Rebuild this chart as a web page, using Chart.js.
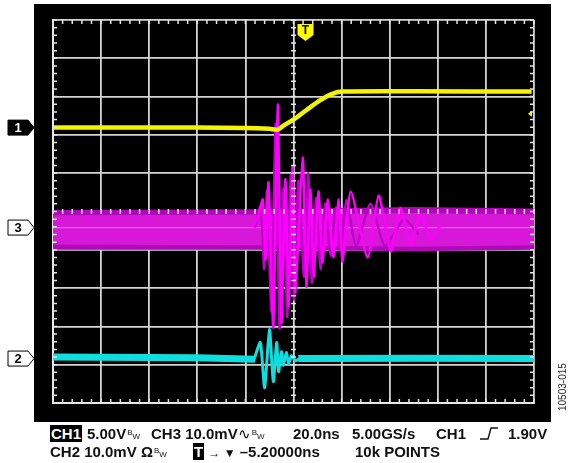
<!DOCTYPE html>
<html lang="en">
<head>
    <meta charset="UTF-8">
    <title>Scope capture 10503-015</title>
    <style>
        body {
            margin: 0;
            background: #fff;
            font-family: "Liberation Sans", Arial, sans-serif;
        }
        .wrap {
            position: relative;
            width: 569px;
            height: 463px;
            overflow: hidden;
        }
        canvas {
            position: absolute;
            left: 0;
            top: 0;
        }
        .info {
            position: absolute;
            font-weight: bold;
            font-size: 15px;
            line-height: 15px;
            color: #111;
            white-space: nowrap;
        }
        .inv {
            background: #000;
            color: #fff;
            padding: 0 1px;
        }
        .bw {
            font-size: 8px;
            font-weight: normal;
            position: relative;
            margin-left: 1px;
        }
        .bw .b { position: relative; top: -4px; }
        .fig {
            position: absolute;
            left: 558px;
            top: 411px;
            font-size: 10px;
            line-height: 10px;
            color: #222;
            transform-origin: 0 0;
            transform: rotate(-90deg);
            white-space: nowrap;
        }
    </style>
</head>
<body>
<div class="wrap">
    <canvas id="scope" width="569" height="463"></canvas>

    <div class="info" style="left:50px; top:426px;"><span class="inv">CH1</span></div>
    <div class="info" style="left:87px; top:426px;">5.00V<span class="bw"><span class="b">B</span>W</span></div>
    <div class="info" style="left:151px; top:426px;">CH3 10.0mV<span style="font-weight:normal">&#x223F;</span><span class="bw"><span class="b">B</span>W</span></div>
    <div class="info" style="left:293px; top:426px;">20.0ns</div>
    <div class="info" style="left:352px; top:426px;">5.00GS/s</div>
    <div class="info" style="left:436px; top:426px;">CH1</div>
    <div class="info" style="left:480px; top:426px;"><svg width="18" height="13" style="vertical-align:-1px"><polyline points="0,12 8,12 11,1 18,1" fill="none" stroke="#111" stroke-width="1.4"/></svg></div>
    <div class="info" style="left:508px; top:426px;">1.90V</div>

    <div class="info" style="left:50px; top:444px;">CH2 10.0mV &#x3A9;<span class="bw"><span class="b">B</span>W</span></div>
    <div class="info" style="left:193px; top:444px;"><span class="inv">T</span> <span style="font-size:12px">&#x2192; &#x25BC;</span> &#x2013;5.20000ns</div>
    <div class="info" style="left:355px; top:444px;">10k POINTS</div>

    <div class="fig">10503-015</div>
</div>

<script src="https://cdn.jsdelivr.net/npm/chart.js"></script>
<script>
// graticule: 10 x 10 divisions, centre = 0
const xDivs = [-5, 5];
const yDivs = [-5, 5];

// channel ground markers (divisions)
const ch1Level = 2.19;
const ch2Level = -3.84;
const ch3Level = -0.42;
const trigPos = 0.25;      // "T" marker on top
const trigLevel = 2.55;    // small marker on right edge

// CH1 (yellow) - step
const ch1Trace = [[-5, 2.19], [-2, 2.19], [-1, 2.18], [-0.5, 2.16], [-0.33, 2.14], [-0.2, 2.25],
    [0, 2.40], [0.25, 2.63], [0.55, 2.90], [0.78, 3.06], [1.0, 3.13], [2.5, 3.14], [4.95, 3.13]];

// CH3 (magenta) noise band envelopes
const ch3OuterTop = [[-5, 0.04], [-0.7, 0.06], [2.5, 0.12], [5, 0.08]];
const ch3OuterBot = [[-5, -1.0], [-0.7, -1.0], [2.5, -1.04], [5, -1.0]];
const ch3InnerTop = [[-5, -0.1], [-0.7, -0.08], [2.5, -0.04], [5, -0.08]];
const ch3InnerBot = [[-5, -0.86], [-0.7, -0.88], [2.5, -0.92], [5, -0.88]];
const ch3Mid = [[-5, -0.42], [5, -0.42]];

// CH3 ringing, two overlapping sweeps
const ch3Ring = [[-0.85, -0.42], [-0.73, -0.1], [-0.64, 0.31], [-0.58, -1.25], [-0.52, 0.76],
    [-0.42, -3.03], [-0.33, 2.79], [-0.25, -2.90], [-0.17, 0.84], [-0.10, -2.48], [-0.02, 1.17],
    [0.04, -2.11], [0.19, 1.41], [0.27, -1.96], [0.35, 0.57], [0.42, -1.70], [0.52, 0.52],
    [0.60, -1.33], [0.71, 0.31], [0.83, -1.20], [0.94, 0.31], [1.02, -1.31], [1.19, 0.52],
    [1.54, -1.20], [1.77, 0.42], [2.02, -1.04], [2.22, 0.10], [2.43, -0.86], [2.64, -0.08],
    [2.85, -0.73], [3.06, -0.34]];
const ch3Ring2 = [[-0.80, -0.42], [-0.68, 0.15], [-0.61, -1.5], [-0.55, 0.55], [-0.46, -2.6],
    [-0.37, 2.3], [-0.29, -3.05], [-0.21, 0.6], [-0.13, -2.75], [-0.06, 0.95], [0.01, -2.3],
    [0.10, 0.8], [0.22, -1.7], [0.31, 1.0], [0.38, -1.85], [0.47, 0.35], [0.56, -1.5],
    [0.66, 0.2], [0.77, -1.15], [0.88, 0.1], [0.98, -1.0], [1.1, 0.3], [1.3, -0.9],
    [1.6, 0.2], [1.9, -0.9], [2.3, -0.2], [2.6, -0.6]];

// CH2 (cyan)
const ch2BaseLeft = [[-5, -3.80], [-2, -3.82], [-0.8, -3.86]];
const ch2BaseRight = [[0.1, -3.84], [2.5, -3.83], [5, -3.84]];
const ch2Ring = [[-0.82, -3.86], [-0.69, -3.42], [-0.60, -4.60], [-0.50, -3.08], [-0.42, -4.44],
    [-0.35, -3.42], [-0.31, -4.18], [-0.25, -3.66], [-0.21, -4.02], [-0.15, -3.68], [-0.10, -3.97],
    [-0.04, -3.76], [0.04, -3.90], [0.12, -3.84]];

function pts(arr) {
    return arr.map(function (p) { return { x: p[0], y: p[1] }; });
}

function trace(data, color, width, order, extra) {
    return Object.assign({
        data: pts(data),
        showLine: true,
        pointRadius: 0,
        borderColor: color,
        borderWidth: width,
        fill: false,
        order: order
    }, extra || {});
}

// black bezel, minor ticks, channel markers, trigger markers
const scopeDecor = {
    id: 'scopeDecor',
    beforeDraw(chart) {
        const a = chart.chartArea;
        const ctx = chart.ctx;
        ctx.save();
        ctx.fillStyle = '#000';
        ctx.fillRect(a.left - 19, a.top - 16, a.right - a.left + 36, a.bottom - a.top + 35);
        ctx.restore();
    },
    afterDraw(chart) {
        const a = chart.chartArea;
        const ctx = chart.ctx;
        const xs = chart.scales.x;
        const ys = chart.scales.y;
        ctx.save();
        ctx.strokeStyle = '#e4e4e4';
        ctx.lineWidth = 1.5;
        ctx.beginPath();
        for (let v = xDivs[0]; v <= xDivs[1] + 0.001; v += 0.2) {
            const px = xs.getPixelForValue(v);
            ctx.moveTo(px, a.top); ctx.lineTo(px, a.top + 4);
            ctx.moveTo(px, a.bottom); ctx.lineTo(px, a.bottom - 4);
            const cy = ys.getPixelForValue(0);
            ctx.moveTo(px, cy - 2.5); ctx.lineTo(px, cy + 2.5);
        }
        for (let v = yDivs[0]; v <= yDivs[1] + 0.001; v += 0.2) {
            const py = ys.getPixelForValue(v);
            ctx.moveTo(a.left, py); ctx.lineTo(a.left + 4, py);
            ctx.moveTo(a.right, py); ctx.lineTo(a.right - 4, py);
            const cx = xs.getPixelForValue(0);
            ctx.moveTo(cx - 2.5, py); ctx.lineTo(cx + 2.5, py);
        }
        ctx.stroke();

        // channel markers on the left
        const marks = [
            { t: '1', v: ch1Level, fill: '#000', text: '#fff' },
            { t: '3', v: ch3Level, fill: '#fff', text: '#000' },
            { t: '2', v: ch2Level, fill: '#fff', text: '#000' }
        ];
        marks.forEach(function (m) {
            const py = ys.getPixelForValue(m.v);
            const l = a.left - 45, r = a.left - 25, tip = a.left - 19;
            ctx.beginPath();
            ctx.moveTo(l, py - 7.5);
            ctx.lineTo(r, py - 7.5);
            ctx.lineTo(tip, py);
            ctx.lineTo(r, py + 7.5);
            ctx.lineTo(l, py + 7.5);
            ctx.closePath();
            ctx.fillStyle = m.fill;
            ctx.fill();
            ctx.strokeStyle = '#000';
            ctx.lineWidth = 1;
            ctx.stroke();
            ctx.fillStyle = m.text;
            ctx.font = 'bold 13px "Liberation Sans", Arial, sans-serif';
            ctx.textAlign = 'center';
            ctx.textBaseline = 'middle';
            ctx.fillText(m.t, (l + r) / 2, py + 1);
        });

        // trigger position marker
        const tx = xs.getPixelForValue(trigPos);
        ctx.beginPath();
        ctx.moveTo(tx - 8, a.top + 4);
        ctx.lineTo(tx + 8, a.top + 4);
        ctx.lineTo(tx + 8, a.top + 15);
        ctx.lineTo(tx, a.top + 21);
        ctx.lineTo(tx - 8, a.top + 15);
        ctx.closePath();
        ctx.fillStyle = '#ffff00';
        ctx.fill();
        ctx.fillStyle = '#000';
        ctx.font = 'bold 12px "Liberation Sans", Arial, sans-serif';
        ctx.textAlign = 'center';
        ctx.textBaseline = 'middle';
        ctx.fillText('T', tx, a.top + 11);

        // trigger level marker
        const ty = ys.getPixelForValue(trigLevel);
        ctx.beginPath();
        ctx.moveTo(a.right - 2, ty - 3);
        ctx.lineTo(a.right - 6, ty);
        ctx.lineTo(a.right - 2, ty + 3);
        ctx.closePath();
        ctx.fillStyle = '#ffff00';
        ctx.fill();
        ctx.restore();
    }
};

const gridOpts = {
    color: '#d4d4d4',
    lineWidth: 1.8,
    drawTicks: false
};

new Chart(document.getElementById('scope'), {
    type: 'scatter',
    data: {
        datasets: [
            trace(ch3OuterTop, 'rgba(0,0,0,0)', 0, 10, { fill: '+1', backgroundColor: '#b008b8' }),
            trace(ch3OuterBot, 'rgba(0,0,0,0)', 0, 10),
            trace(ch3InnerTop, 'rgba(0,0,0,0)', 0, 9, { fill: '+1', backgroundColor: '#d818d8' }),
            trace(ch3InnerBot, 'rgba(0,0,0,0)', 0, 9),
            trace(ch3Mid, '#f060f0', 1.2, 8),
            trace(ch3Ring2, '#c000c8', 2.5, 7, { tension: 0.2 }),
            trace(ch3Ring, '#ff00ff', 2.5, 6, { tension: 0.2 }),
            trace(ch1Trace, '#f4f400', 4.5, 2, { tension: 0.3 }),
            trace(ch2BaseLeft, '#10dede', 7, 2),
            trace(ch2BaseRight, '#10dede', 7, 2),
            trace(ch2Ring, '#10dede', 3, 1, { tension: 0.2 })
        ]
    },
    options: {
        responsive: false,
        animation: false,
        layout: {
            padding: { left: 53, right: 35, top: 20, bottom: 60 }
        },
        plugins: {
            legend: { display: false },
            tooltip: { enabled: false }
        },
        scales: {
            x: {
                type: 'linear',
                min: xDivs[0],
                max: xDivs[1],
                z: 1,
                ticks: { display: false, stepSize: 1 },
                grid: gridOpts,
                border: { color: '#e8e8e8', width: 2 }
            },
            y: {
                type: 'linear',
                min: yDivs[0],
                max: yDivs[1],
                z: 1,
                ticks: { display: false, stepSize: 1 },
                grid: gridOpts,
                border: { color: '#e8e8e8', width: 2 }
            }
        }
    },
    plugins: [scopeDecor]
});
</script>
</body>
</html>
